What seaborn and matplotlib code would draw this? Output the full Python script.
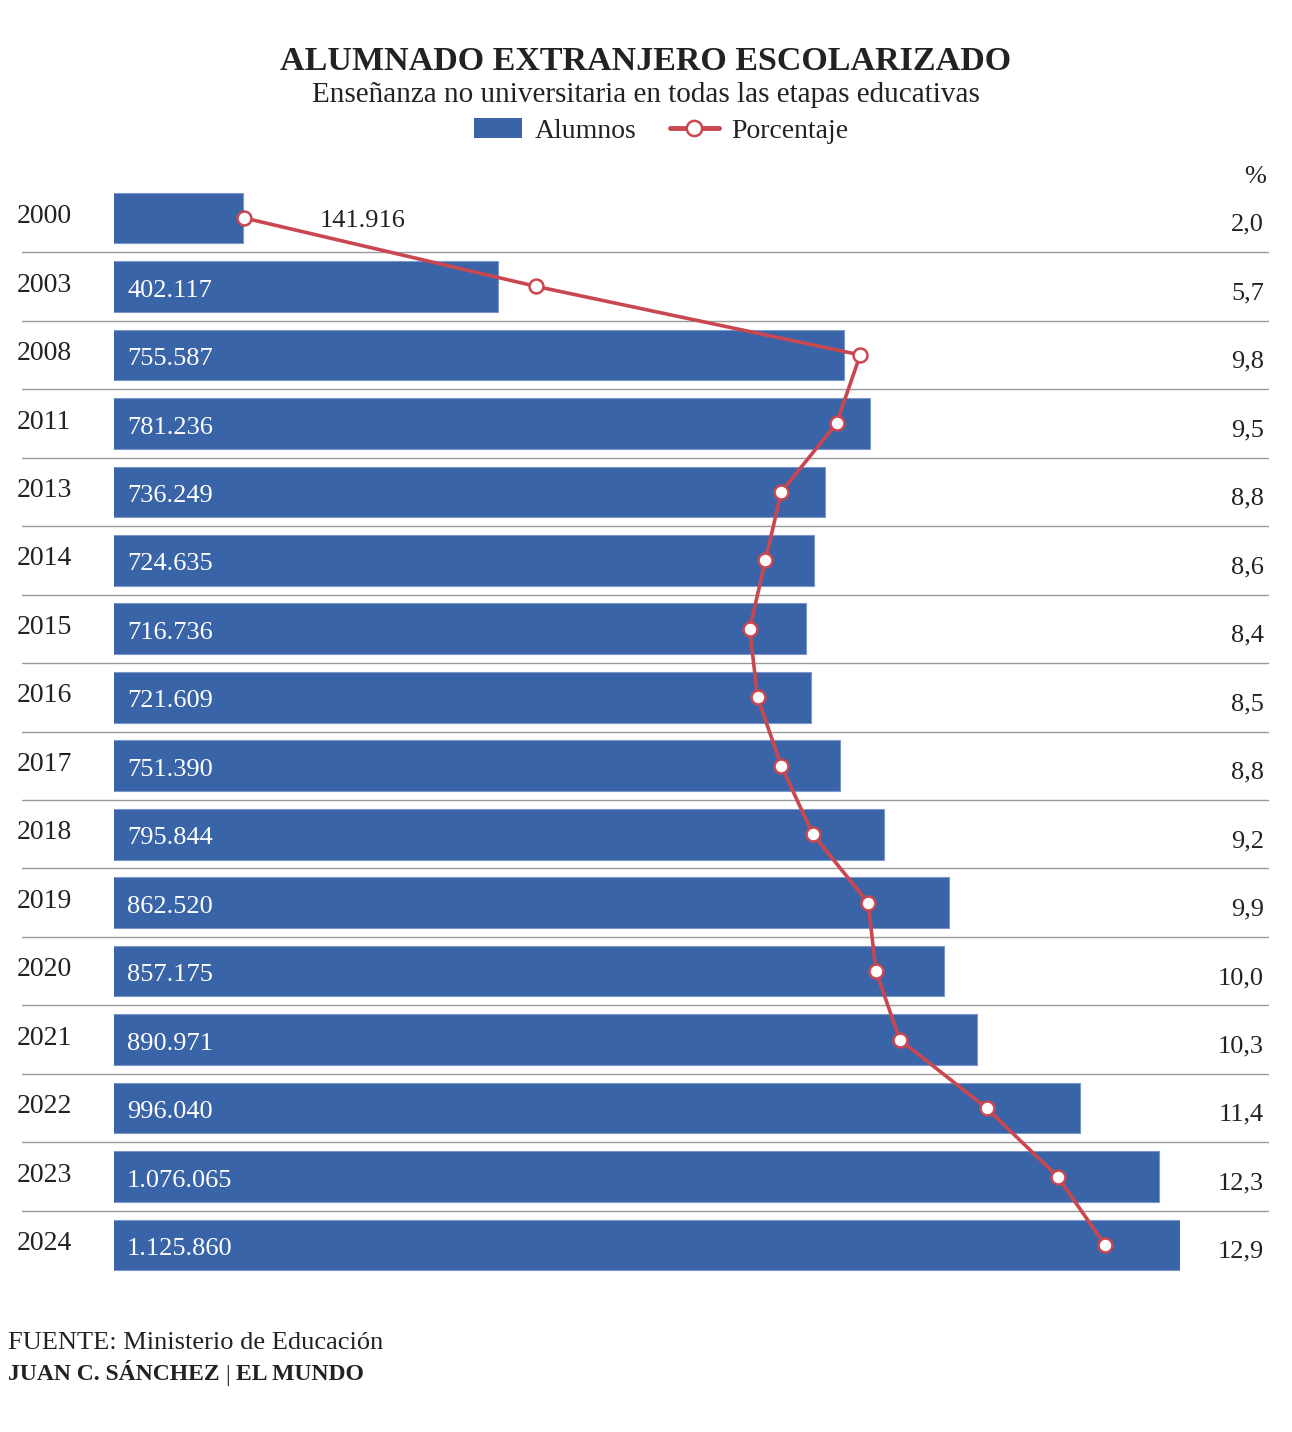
import pandas as pd
import matplotlib.pyplot as plt
import matplotlib.transforms as mtransforms
from matplotlib.patches import Patch
from matplotlib.lines import Line2D
import seaborn as sns

years = ["2000", "2003", "2008", "2011", "2013", "2014", "2015", "2016",
         "2017", "2018", "2019", "2020", "2021", "2022", "2023", "2024"]
alumnos = [141916, 402117, 755587, 781236, 736249, 724635, 716736, 721609,
           751390, 795844, 862520, 857175, 890971, 996040, 1076065, 1125860]
porcentaje = [2.0, 5.7, 9.8, 9.5, 8.8, 8.6, 8.4, 8.5,
              8.8, 9.2, 9.9, 10.0, 10.3, 11.4, 12.3, 12.9]

BLUE = "#3A64A8"
RED = "#C94750"
DARK = "#222222"

df = pd.DataFrame({"year": years, "alumnos": alumnos, "pct": porcentaje})
df["pos"] = range(len(df))


def fmt_es(n):
    return f"{n:,}".replace(",", ".")


sns.set_theme(style="white")
plt.rcParams["font.family"] = ["Liberation Serif", "DejaVu Serif"]

W, H = 1292, 1432
fig = plt.figure(figsize=(W / 100, H / 100), dpi=100)

# bars area: x 114..1180 px, rows centred from 218 to 1245 px
row = (1245 - 218) / 15
top = 218 - row / 2
bottom = 1245 + row / 2
ax = fig.add_axes([114 / W, 1 - bottom / H, (1180 - 114) / W, (bottom - top) / H])

sns.barplot(data=df, x="alumnos", y="year", orient="h", color=BLUE,
            saturation=1, width=0.74, edgecolor="#7b98c9", linewidth=0.8, ax=ax)
# the original scale: bars start a little after zero and the last one is cut
ax.set_xlim(10200, 1098000)
ax.set_ylim(len(df) - 0.5, -0.5)

# percentage line on a second x scale
ax2 = ax.twiny()
sns.lineplot(data=df, x="pct", y="pos", sort=False, estimator=None, color=RED,
             linewidth=2.6, marker="o", markersize=10, markerfacecolor="white",
             markeredgecolor=RED, markeredgewidth=1.8, ax=ax2, zorder=5)
ax2.set_xlim(0.35, 13.85)
ax2.set_ylim(len(df) - 0.5, -0.5)

for a in (ax, ax2):
    a.set_xlabel("")
    a.set_ylabel("")
    a.set_xticks([])
    a.set_yticks([])
    for s in a.spines.values():
        s.set_visible(False)
    a.patch.set_visible(False)

# separator lines
for i in range(len(df) - 1):
    ax.axhline(i + 0.5, xmin=(22 - 114) / 1066, xmax=(1268 - 114) / 1066,
               color="#9a9a9a", lw=1, clip_on=False, zorder=0)

trans = mtransforms.blended_transform_factory(fig.transFigure, ax.transData)
for i, r in df.iterrows():
    ax.text(17 / W, i - 0.02, r["year"], transform=trans, ha="left",
            va="center", fontsize=20, color=DARK)
    ax.text(1264 / W, i + 0.1, f"{r['pct']:.1f}".replace(".", ","),
            transform=trans, ha="right", va="center", fontsize=19, color=DARK)
    if i == 0:
        ax.text(320 / W, i + 0.04, fmt_es(r["alumnos"]), transform=trans,
                ha="left", va="center", fontsize=19, color=DARK)
    else:
        ax.text(127 / W, i + 0.06, fmt_es(r["alumnos"]), transform=trans,
                ha="left", va="center", fontsize=19, color="white")

fig.text(1266 / W, 1 - 177 / H, "%", ha="right", va="center", fontsize=19,
         color=DARK)

# titles
fig.text(646 / W, 1 - 61 / H, "ALUMNADO EXTRANJERO ESCOLARIZADO", ha="center",
         va="center", fontsize=24.5, fontweight="bold", color=DARK)
fig.text(646 / W, 1 - 95 / H, "Enseñanza no universitaria en todas las etapas educativas",
         ha="center", va="center", fontsize=21, color=DARK)

handles = [Patch(facecolor=BLUE, edgecolor="none"),
           Line2D([], [], color=RED, lw=3.5, marker="o", markersize=11,
                  markerfacecolor="white", markeredgecolor=RED,
                  markeredgewidth=1.8)]
fig.legend(handles, ["Alumnos", "Porcentaje"], loc="center",
           bbox_to_anchor=(661 / W, 1 - 131 / H), ncol=2, frameon=False,
           fontsize=20, handlelength=1.75, handleheight=0.7, columnspacing=1.2,
           handletextpad=0.45, labelcolor=DARK)

# footer
fig.text(8 / W, 1 - 1343 / H, "FUENTE: Ministerio de Educación", ha="left",
         va="center", fontsize=19, color=DARK)
t1 = fig.text(8 / W, 1 - 1375 / H, "JUAN C. SÁNCHEZ ", ha="left", va="center",
              fontsize=17, fontweight="bold", color=DARK)
fig.canvas.draw()
bb = t1.get_window_extent()
t2 = fig.text(bb.x1 / W, 1 - 1375 / H, "| ", ha="left", va="center",
              fontsize=17, color=DARK)
bb2 = t2.get_window_extent()
fig.text(bb2.x1 / W, 1 - 1375 / H, "EL MUNDO", ha="left", va="center",
         fontsize=17, fontweight="bold", color=DARK)

fig.savefig("out.png", dpi=100, facecolor="white")
